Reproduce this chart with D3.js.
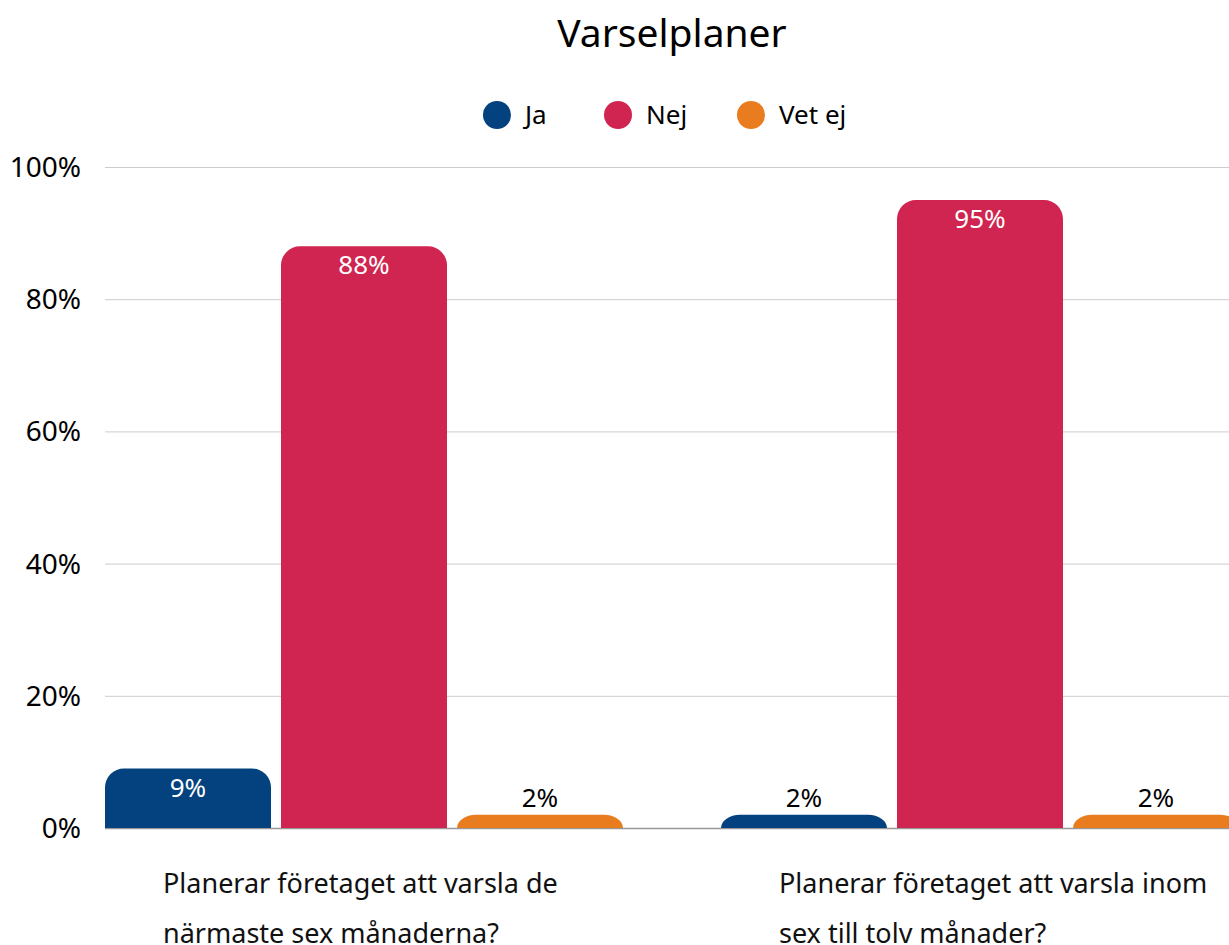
<!DOCTYPE html>
<html>
<head>
<meta charset="utf-8">
<script src="https://cdn.jsdelivr.net/npm/d3@7"></script>
<style>
  body { margin: 0; background: #fff; overflow: hidden; }
  svg { display: block; font-family: "Noto Sans", sans-serif; }
</style>
</head>
<body>
<div id="chart"></div>
<script>
const title = "Varselplaner";
const questions = [
  ["Planerar företaget att varsla de", "närmaste sex månaderna?"],
  ["Planerar företaget att varsla inom", "sex till tolv månader?"]
];
const seriesNames = ["Ja", "Nej", "Vet ej"];
const seriesColors = ["#03427f", "#cf2550", "#e97c1e"];
const ja = [9, 2];
const nej = [88, 95];
const vetEj = [2, 2];
const yTicks = [0, 20, 40, 60, 80, 100];

const width = 1229;
const height = 945;

const rows = questions.map((q, i) => ({
  key: i,
  label: q,
  values: [ja[i], nej[i], vetEj[i]]
}));

const svg = d3.select("#chart").append("svg")
  .attr("width", width)
  .attr("height", height);

const plot = { left: 105, top: 167, bottom: 828 };

// bands run a bit past the right edge of the window
const x0 = d3.scaleBand().domain(rows.map(d => d.key)).range([56, 1288]);
const x1 = d3.scaleBand().domain(seriesNames)
  .range([49, x0.bandwidth() - 49]).paddingInner(0.0568);
const y = d3.scaleLinear().domain([0, 100]).range([plot.bottom, plot.top]);

// title
svg.append("text")
  .attr("x", 672).attr("y", 47)
  .attr("text-anchor", "middle")
  .attr("font-size", 39)
  .attr("fill", "#000")
  .text(title);

// legend
const legendX = [497, 618, 751];
const legend = svg.append("g").selectAll("g")
  .data(seriesNames)
  .join("g")
  .attr("transform", (d, i) => `translate(${legendX[i]},115)`);
legend.append("circle").attr("r", 14).attr("fill", (d, i) => seriesColors[i]);
legend.append("text")
  .attr("x", 28).attr("y", 9)
  .attr("font-size", 26)
  .text(d => d);

// gridlines
svg.append("g")
  .attr("transform", `translate(${plot.left},0)`)
  .call(d3.axisLeft(y).tickValues(yTicks.slice(1)).tickFormat("").tickSize(-(width - plot.left + 10)))
  .call(g => g.select(".domain").remove())
  .call(g => g.selectAll("line").attr("stroke", "#cccccc"));

// y labels
svg.append("g").selectAll("text")
  .data(yTicks)
  .join("text")
  .attr("x", 81)
  .attr("y", d => y(d) + 10)
  .attr("text-anchor", "end")
  .attr("font-size", 28)
  .text(d => d + "%");

// x axis line
svg.append("line")
  .attr("x1", plot.left).attr("x2", width)
  .attr("y1", plot.bottom + 0.5).attr("y2", plot.bottom + 0.5)
  .attr("stroke", "#999999").attr("stroke-width", 1.5);

// bars with rounded top corners
function topRounded(x, yTop, w, h, r) {
  const ry = Math.min(r, h);
  return `M${x},${yTop + h}V${yTop + ry}A${r},${ry} 0 0 1 ${x + r},${yTop}` +
    `H${x + w - r}A${r},${ry} 0 0 1 ${x + w},${yTop + ry}V${yTop + h}Z`;
}

const groups = svg.append("g").selectAll("g")
  .data(rows)
  .join("g")
  .attr("transform", d => `translate(${x0(d.key)},0)`);

const bars = groups.selectAll("g")
  .data(d => d.values.map((v, i) => ({ name: seriesNames[i], value: v, color: seriesColors[i] })))
  .join("g");

bars.append("path")
  .attr("fill", d => d.color)
  .attr("d", d => topRounded(x1(d.name), y(d.value), x1.bandwidth(), plot.bottom - y(d.value), 19));

const inside = d => plot.bottom - y(d.value) > 35;
bars.append("text")
  .attr("x", d => x1(d.name) + x1.bandwidth() / 2)
  .attr("y", d => inside(d) ? y(d.value) + 28 : y(d.value) - 8)
  .attr("text-anchor", "middle")
  .attr("font-size", 26)
  .attr("fill", d => inside(d) ? "#fff" : "#000")
  .text(d => d.value + "%");

// category labels: left-aligned lines in a fixed-width box centred on the band
const labelBox = 402;
svg.append("g").selectAll("text")
  .data(rows)
  .join("text")
  .attr("font-size", 27)
  .attr("fill", "#111")
  .attr("y", 893)
  .selectAll("tspan")
  .data(d => d.label.map(t => ({ t, x: x0(d.key) + x0.bandwidth() / 2 - labelBox / 2 })))
  .join("tspan")
  .attr("x", d => d.x)
  .attr("dy", (d, i) => i === 0 ? 0 : 50)
  .text(d => d.t);
</script>
</body>
</html>
